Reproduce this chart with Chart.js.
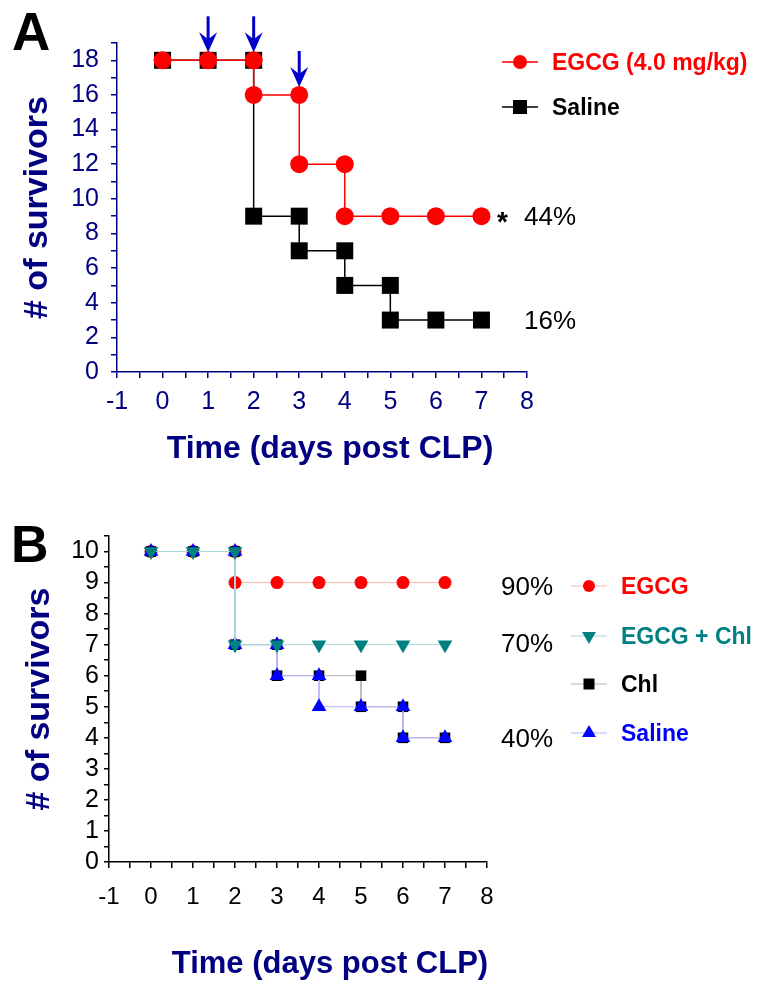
<!DOCTYPE html>
<html>
<head>
<meta charset="utf-8">
<script src="https://cdn.jsdelivr.net/npm/chart.js@4.4.0/dist/chart.umd.min.js"></script>
<style>
  body { margin: 0; background: #fff; width: 762px; height: 992px; position: relative; overflow: hidden; }
  canvas { position: absolute; left: 0; }
  #panelA { top: 0; }
  #panelB { top: 470px; }
</style>
</head>
<body>
<canvas id="panelA" width="762" height="470"></canvas>
<canvas id="panelB" width="762" height="522"></canvas>
<script>
// panel A: EGCG 4.0 mg/kg vs saline (n = 18)
const aEgcgDays = [0, 1, 2, 2, 3, 3, 4, 4, 5, 6, 7];
const aEgcgSurvivors = [18, 18, 18, 16, 16, 12, 12, 9, 9, 9, 9];
const aSalineDays = [0, 1, 2, 2, 3, 3, 4, 4, 5, 5, 6, 7];
const aSalineSurvivors = [18, 18, 18, 9, 9, 7, 7, 5, 5, 3, 3, 3];
const aDoseDays = [1, 2, 3];
const aDoseLevels = [18, 18, 16];

// panel B: EGCG, EGCG + Chl, Chl, saline (n = 10)
const bEgcgDays = [0, 1, 2, 2, 3, 4, 5, 6, 7];
const bEgcgSurvivors = [10, 10, 10, 9, 9, 9, 9, 9, 9];
const bEgcgChlDays = [0, 1, 2, 2, 3, 4, 5, 6, 7];
const bEgcgChlSurvivors = [10, 10, 10, 7, 7, 7, 7, 7, 7];
const bChlDays = [0, 1, 2, 2, 3, 3, 4, 5, 5, 6, 6, 7];
const bChlSurvivors = [10, 10, 10, 7, 7, 6, 6, 6, 5, 5, 4, 4];
const bSalineDays = [0, 1, 2, 2, 3, 3, 4, 4, 5, 6, 6, 7];
const bSalineSurvivors = [10, 10, 10, 7, 7, 6, 6, 5, 5, 5, 4, 4];

const FONT = '"Liberation Sans", Arial, sans-serif';
const navy = "#000080";
const last = arr => arr[arr.length - 1];
const toPoints = (days, vals) => days.map((d, i) => ({ x: d, y: vals[i] }));

function text(ctx, str, x, y, font, color, align) {
  ctx.save();
  ctx.font = font;
  ctx.fillStyle = color;
  ctx.textAlign = align || "left";
  ctx.textBaseline = "alphabetic";
  ctx.fillText(str, x, y);
  ctx.restore();
}

function marker(ctx, style, x, y, r, color) {
  ctx.save();
  ctx.fillStyle = color;
  ctx.beginPath();
  if (style === "circle") {
    ctx.arc(x, y, r, 0, Math.PI * 2);
  } else if (style === "rect") {
    ctx.rect(x - r, y - r, 2 * r, 2 * r);
  } else if (style === "up") {
    ctx.moveTo(x, y - r);
    ctx.lineTo(x + r * 0.87, y + r * 0.5);
    ctx.lineTo(x - r * 0.87, y + r * 0.5);
  } else if (style === "down") {
    ctx.moveTo(x, y + r);
    ctx.lineTo(x + r * 0.87, y - r * 0.5);
    ctx.lineTo(x - r * 0.87, y - r * 0.5);
  }
  ctx.closePath();
  ctx.fill();
  ctx.restore();
}

function legendRow(ctx, x, y, lineColor, lineWidth, style, r, color, label, textColor) {
  ctx.save();
  ctx.strokeStyle = lineColor;
  ctx.lineWidth = lineWidth;
  ctx.beginPath();
  ctx.moveTo(x - 18, y);
  ctx.lineTo(x + 18, y);
  ctx.stroke();
  ctx.restore();
  marker(ctx, style, x, y, r, color);
  text(ctx, label, x + 32, y + 8, "bold 23px " + FONT, textColor);
}

function arrow(ctx, x, tip) {
  ctx.save();
  ctx.strokeStyle = "#0000c8";
  ctx.fillStyle = "#0000c8";
  ctx.lineWidth = 3;
  ctx.beginPath();
  ctx.moveTo(x, tip - 36);
  ctx.lineTo(x, tip - 10);
  ctx.stroke();
  ctx.beginPath();
  ctx.moveTo(x, tip);
  ctx.lineTo(x - 9, tip - 20);
  ctx.lineTo(x, tip - 13);
  ctx.lineTo(x + 9, tip - 20);
  ctx.closePath();
  ctx.fill();
  ctx.restore();
}

const panelADecor = {
  id: "panelADecor",
  afterDraw(chart) {
    const ctx = chart.ctx;
    const xs = chart.scales.x, ys = chart.scales.y;
    text(ctx, "A", 12, 50, "bold 53px " + FONT, "#000");
    aDoseDays.forEach((d, i) => arrow(ctx, xs.getPixelForValue(d), ys.getPixelForValue(aDoseLevels[i]) - 8));
    legendRow(ctx, 520, 62, "#ff0000", 1.5, "circle", 7, "#ff0000", "EGCG (4.0 mg/kg)", "#ff0000");
    legendRow(ctx, 520, 107, "#000", 1.5, "rect", 7, "#000", "Saline", "#000");
    const yE = ys.getPixelForValue(last(aEgcgSurvivors));
    const yS = ys.getPixelForValue(last(aSalineSurvivors));
    text(ctx, "*", 497, yE + 15, "bold 28px " + FONT, "#000");
    text(ctx, "44%", 524, yE + 9, "26px " + FONT, "#000");
    text(ctx, "16%", 524, yS + 9, "26px " + FONT, "#000");
    text(ctx, "Time (days post CLP)", 330, 458, "bold 32px " + FONT, navy, "center");
  }
};

const panelBDecor = {
  id: "panelBDecor",
  afterDraw(chart) {
    const ctx = chart.ctx;
    const ys = chart.scales.y;
    text(ctx, "B", 11, 92, "bold 52px " + FONT, "#000");
    legendRow(ctx, 589, 116, "#ffb4b4", 1, "circle", 6, "#ff0000", "EGCG", "#ff0000");
    legendRow(ctx, 589, 166, "#a8d8d8", 1, "down", 8, "#008080", "EGCG + Chl", "#008080");
    legendRow(ctx, 589, 214, "#b4b4b4", 1, "rect", 5.5, "#000", "Chl", "#000");
    legendRow(ctx, 589, 263, "#b4b4ff", 1, "up", 8, "#0000ff", "Saline", "#0000ff");
    text(ctx, "90%", 501, ys.getPixelForValue(last(bEgcgSurvivors)) + 12, "26px " + FONT, "#000");
    text(ctx, "70%", 501, ys.getPixelForValue(last(bEgcgChlSurvivors)) + 7, "26px " + FONT, "#000");
    text(ctx, "40%", 501, ys.getPixelForValue(last(bSalineSurvivors)) + 9, "26px " + FONT, "#000");
    text(ctx, "Time (days post CLP)", 330, 503, "bold 31px " + FONT, navy, "center");
  }
};

const survivalA = () => {
  new Chart(document.getElementById("panelA"), {
    type: "scatter",
    data: {
      datasets: [
        {
          label: "EGCG (4.0 mg/kg)",
          data: toPoints(aEgcgDays, aEgcgSurvivors),
          showLine: true,
          borderColor: "#ff0000",
          borderWidth: 1.5,
          pointStyle: "circle",
          pointRadius: 9,
          pointBackgroundColor: "#ff0000",
          pointBorderColor: "#ff0000",
          pointBorderWidth: 0,
          order: 0,
        },
        {
          label: "Saline",
          data: toPoints(aSalineDays, aSalineSurvivors),
          showLine: true,
          borderColor: "#000",
          borderWidth: 1.5,
          pointStyle: "rect",
          pointRadius: 12,
          pointBackgroundColor: "#000",
          pointBorderColor: "#000",
          pointBorderWidth: 0,
          order: 1,
        },
      ],
    },
    options: {
      responsive: false,
      animation: false,
      devicePixelRatio: 1,
      layout: { padding: { top: 43, right: 235, left: 0, bottom: 0 } },
      plugins: { legend: { display: false }, tooltip: { enabled: false } },
      scales: {
        x: {
          type: "linear",
          min: -1,
          max: 8,
          afterFit: (s) => { s.height = 98; },
          border: { color: navy, width: 1.5 },
          grid: { drawOnChartArea: false, color: navy, tickLength: 6, lineWidth: 1.5 },
          ticks: {
            stepSize: 0.5,
            autoSkip: false,
            maxRotation: 0,
            color: navy,
            padding: 9,
            font: { family: FONT, size: 25 },
            callback: (v) => (Number.isInteger(v) ? v : ""),
          },
        },
        y: {
          min: 0,
          max: 19,
          afterFit: (s) => { s.width = 117; },
          border: { color: navy, width: 1.5 },
          grid: { drawOnChartArea: false, color: navy, tickLength: 6, lineWidth: 1.5 },
          ticks: {
            stepSize: 1,
            autoSkip: false,
            color: navy,
            padding: 12,
            font: { family: FONT, size: 25 },
            callback: (v) => (v % 2 === 0 && v <= 18 ? v : ""),
          },
          title: {
            display: true,
            text: "# of survivors",
            color: navy,
            font: { family: FONT, size: 34, weight: "bold", lineHeight: 1.2 },
            padding: { top: 17, bottom: 0 },
          },
        },
      },
    },
    plugins: [panelADecor],
  });
};

survivalA();

const survivalB = () => {
  const series = (label, days, vals, line, style, color, radius, rotation, order) => ({
    label,
    data: toPoints(days, vals),
    showLine: true,
    borderColor: line,
    borderWidth: 1,
    pointStyle: style,
    pointRotation: rotation,
    pointRadius: radius,
    pointBackgroundColor: color,
    pointBorderColor: color,
    pointBorderWidth: 0,
    order,
  });
  new Chart(document.getElementById("panelB"), {
    type: "scatter",
    data: {
      datasets: [
        series("EGCG", bEgcgDays, bEgcgSurvivors, "#ffb4b4", "circle", "#ff0000", 6.5, 0, 3),
        series("EGCG + Chl", bEgcgChlDays, bEgcgChlSurvivors, "#a8d8d8", "triangle", "#008080", 8.5, 180, 0),
        series("Chl", bChlDays, bChlSurvivors, "#b4b4b4", "rect", "#000", 7.5, 0, 2),
        series("Saline", bSalineDays, bSalineSurvivors, "#b4b4ff", "triangle", "#0000ff", 8.5, 0, 1),
      ],
    },
    options: {
      responsive: false,
      animation: false,
      devicePixelRatio: 1,
      layout: { padding: { top: 66, right: 275, left: 0, bottom: 0 } },
      plugins: { legend: { display: false }, tooltip: { enabled: false } },
      scales: {
        x: {
          type: "linear",
          min: -1,
          max: 8,
          afterFit: (s) => { s.height = 130; },
          border: { color: "#000", width: 1.5 },
          grid: { drawOnChartArea: false, color: "#000", tickLength: 6, lineWidth: 1.5 },
          ticks: {
            stepSize: 0.5,
            autoSkip: false,
            maxRotation: 0,
            color: "#000",
            padding: 15,
            font: { family: FONT, size: 24 },
            callback: (v) => (Number.isInteger(v) ? v : ""),
          },
        },
        y: {
          min: 0,
          max: 10.5,
          afterFit: (s) => { s.width = 109; },
          border: { color: "#000", width: 1.5 },
          grid: { drawOnChartArea: false, color: "#000", tickLength: 5, lineWidth: 1.5 },
          ticks: {
            stepSize: 0.5,
            autoSkip: false,
            color: "#000",
            padding: 5,
            font: { family: FONT, size: 25 },
            callback: (v) => (Number.isInteger(v) && v <= 10 ? v : ""),
          },
          title: {
            display: true,
            text: "# of survivors",
            color: navy,
            font: { family: FONT, size: 34, weight: "bold", lineHeight: 1.2 },
            padding: { top: 19, bottom: 0 },
          },
        },
      },
    },
    plugins: [panelBDecor],
  });
};

survivalB();
</script>
</body>
</html>
